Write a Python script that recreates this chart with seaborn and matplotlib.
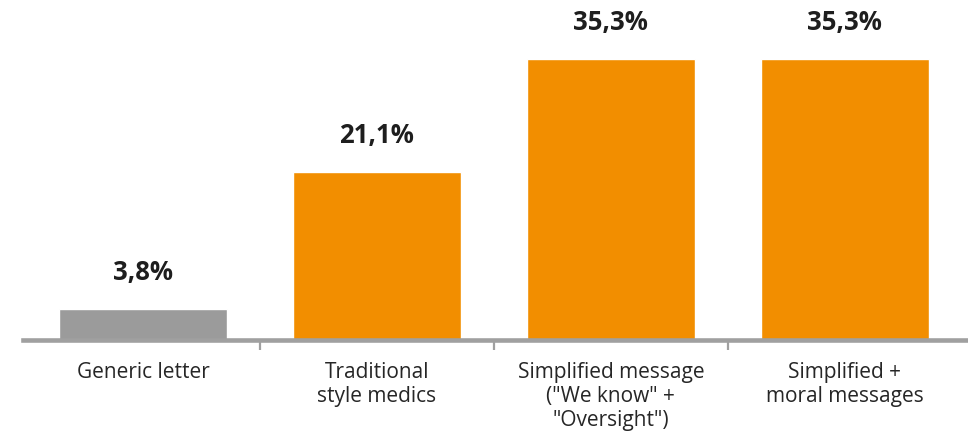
import matplotlib
matplotlib.use("Agg")
import matplotlib.pyplot as plt
import seaborn as sns
import pandas as pd

categories = [
    "Generic letter",
    "Traditional\nstyle medics",
    "Simplified message\n(\"We know\" +\n\"Oversight\")",
    "Simplified +\nmoral messages",
]
values = [3.8, 21.1, 35.3, 35.3]
value_labels = ["3,8%", "21,1%", "35,3%", "35,3%"]
bar_colors = ["#9b9b9b", "#f28e00", "#f28e00", "#f28e00"]

sns.set_theme(style="white")
plt.rcParams["font.family"] = ["Open Sans", "DejaVu Sans"]

df = pd.DataFrame({"category": categories, "value": values})

fig = plt.figure(figsize=(9.68, 4.34), dpi=100)
ax = fig.add_axes([0.0, 0.2177, 1.0, 0.7823])

sns.barplot(
    data=df, x="category", y="value", hue="category",
    palette=bar_colors, width=0.72, saturation=1, legend=False, ax=ax,
)

for bars, lab in zip(ax.containers, value_labels):
    ax.bar_label(bars, labels=[lab], padding=17, fontsize=18.5,
                 fontweight="bold", color="#1e1e1e")

ax.set_xlim(-0.611, 3.526)
ax.set_ylim(0, 42.8)
ax.set_xlabel("")
ax.set_ylabel("")
ax.set_yticks([])

for side in ["left", "right", "top"]:
    ax.spines[side].set_visible(False)
ax.spines["bottom"].set_color("#a0a0a0")
ax.spines["bottom"].set_linewidth(3.3)
ax.spines["bottom"].set_zorder(5)
ax.spines["bottom"].set_bounds(-0.513, 3.526)

ax.set_xticks(range(len(categories)))
ax.set_xticklabels(categories, fontsize=15, color="#262626", linespacing=1.2)
ax.tick_params(axis="x", which="major", length=0, pad=16)
ax.set_xticks([0.5, 1.5, 2.5], minor=True)
ax.tick_params(axis="x", which="minor", length=7, width=1.6, color="#a0a0a0",
               direction="out", bottom=True)

fig.savefig("out.png", dpi=100)
